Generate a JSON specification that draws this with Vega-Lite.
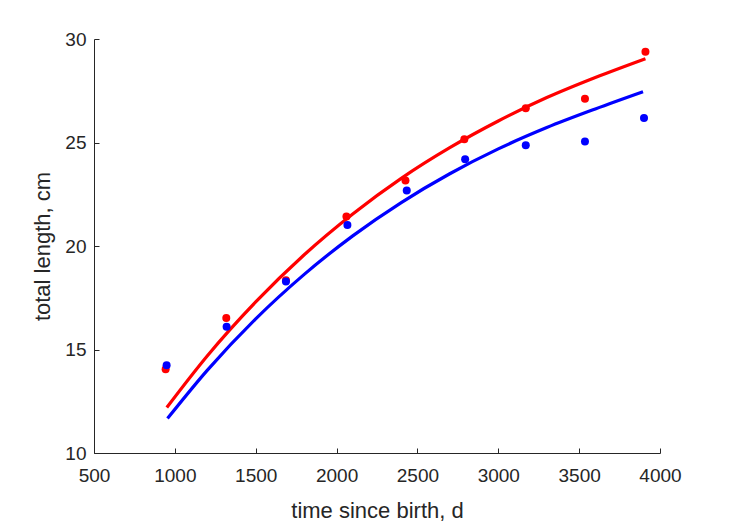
{
  "$schema": "https://vega.github.io/schema/vega-lite/v6.json",
  "width": 566,
  "height": 414,
  "autosize": {"type": "none"},
  "padding": {"left": 94, "top": 39, "right": 69, "bottom": 68},
  "background": "white",
  "config": {
    "view": {"stroke": null},
    "font": "Liberation Sans",
    "axis": {
      "grid": false,
      "domainColor": "#262626",
      "domainWidth": 1,
      "tickColor": "#262626",
      "tickWidth": 1,
      "tickSize": -5,
      "labelColor": "#262626",
      "labelFont": "Liberation Sans",
      "labelFontSize": 19,
      "labelFlush": false,
      "labelOverlap": false,
      "titleColor": "#262626",
      "titleFont": "Liberation Sans",
      "titleFontSize": 22,
      "titleFontWeight": "normal"
    }
  },
  "data": {
    "values": [
      {"t": 950, "L": 12.2, "grp": "red", "kind": "fit"},
      {"t": 1200, "L": 14.69, "grp": "red", "kind": "fit"},
      {"t": 1500, "L": 17.3, "grp": "red", "kind": "fit"},
      {"t": 1800, "L": 19.58, "grp": "red", "kind": "fit"},
      {"t": 2100, "L": 21.55, "grp": "red", "kind": "fit"},
      {"t": 2400, "L": 23.27, "grp": "red", "kind": "fit"},
      {"t": 2700, "L": 24.75, "grp": "red", "kind": "fit"},
      {"t": 3000, "L": 26.04, "grp": "red", "kind": "fit"},
      {"t": 3300, "L": 27.17, "grp": "red", "kind": "fit"},
      {"t": 3600, "L": 28.14, "grp": "red", "kind": "fit"},
      {"t": 3910, "L": 29.05, "grp": "red", "kind": "fit"},
      {"t": 955, "L": 11.67, "grp": "blue", "kind": "fit"},
      {"t": 1200, "L": 13.99, "grp": "blue", "kind": "fit"},
      {"t": 1500, "L": 16.48, "grp": "blue", "kind": "fit"},
      {"t": 1800, "L": 18.63, "grp": "blue", "kind": "fit"},
      {"t": 2100, "L": 20.49, "grp": "blue", "kind": "fit"},
      {"t": 2400, "L": 22.1, "grp": "blue", "kind": "fit"},
      {"t": 2700, "L": 23.49, "grp": "blue", "kind": "fit"},
      {"t": 3000, "L": 24.69, "grp": "blue", "kind": "fit"},
      {"t": 3300, "L": 25.72, "grp": "blue", "kind": "fit"},
      {"t": 3600, "L": 26.62, "grp": "blue", "kind": "fit"},
      {"t": 3895, "L": 27.45, "grp": "blue", "kind": "fit"},
      {"t": 943, "L": 14.05, "grp": "red", "kind": "obs"},
      {"t": 1318, "L": 16.52, "grp": "red", "kind": "obs"},
      {"t": 1687, "L": 18.35, "grp": "red", "kind": "obs"},
      {"t": 2061, "L": 21.42, "grp": "red", "kind": "obs"},
      {"t": 2426, "L": 23.16, "grp": "red", "kind": "obs"},
      {"t": 2790, "L": 25.16, "grp": "red", "kind": "obs"},
      {"t": 3170, "L": 26.66, "grp": "red", "kind": "obs"},
      {"t": 3536, "L": 27.11, "grp": "red", "kind": "obs"},
      {"t": 3910, "L": 29.39, "grp": "red", "kind": "obs"},
      {"t": 949, "L": 14.24, "grp": "blue", "kind": "obs"},
      {"t": 1320, "L": 16.1, "grp": "blue", "kind": "obs"},
      {"t": 1687, "L": 18.29, "grp": "blue", "kind": "obs"},
      {"t": 2067, "L": 21.02, "grp": "blue", "kind": "obs"},
      {"t": 2434, "L": 22.68, "grp": "blue", "kind": "obs"},
      {"t": 2795, "L": 24.19, "grp": "blue", "kind": "obs"},
      {"t": 3170, "L": 24.87, "grp": "blue", "kind": "obs"},
      {"t": 3536, "L": 25.05, "grp": "blue", "kind": "obs"},
      {"t": 3901, "L": 26.18, "grp": "blue", "kind": "obs"}
    ]
  },
  "encoding": {
    "x": {
      "field": "t", "type": "quantitative",
      "scale": {"domain": [500, 4000], "nice": false, "zero": false},
      "axis": {
        "title": "time since birth, d",
        "values": [500, 1000, 1500, 2000, 2500, 3000, 3500, 4000],
        "format": "d",
        "labelPadding": 18,
        "titleX": 283, "titleY": 64, "titleBaseline": "alphabetic", "titleAnchor": null
      }
    },
    "y": {
      "field": "L", "type": "quantitative",
      "scale": {"domain": [10, 30], "nice": false, "zero": false},
      "axis": {
        "title": "total length, cm",
        "values": [10, 15, 20, 25, 30],
        "labelPadding": 13,
        "titleX": -52, "titleY": 207, "titleBaseline": "middle", "titleAlign": "center", "titleAngle": -90
      }
    },
    "color": {
      "field": "grp", "type": "nominal",
      "scale": {"domain": ["red", "blue"], "range": ["#FF0000", "#0000FF"]},
      "legend": null
    }
  },
  "layer": [
    {
      "transform": [{"filter": "datum.kind === 'fit'"}],
      "mark": {"type": "line", "strokeWidth": 3.2, "interpolate": "monotone"},
      "encoding": {"detail": {"field": "grp"}}
    },
    {
      "transform": [{"filter": "datum.kind === 'obs'"}],
      "mark": {"type": "point", "filled": true, "opacity": 1, "size": 64}
    }
  ]
}
